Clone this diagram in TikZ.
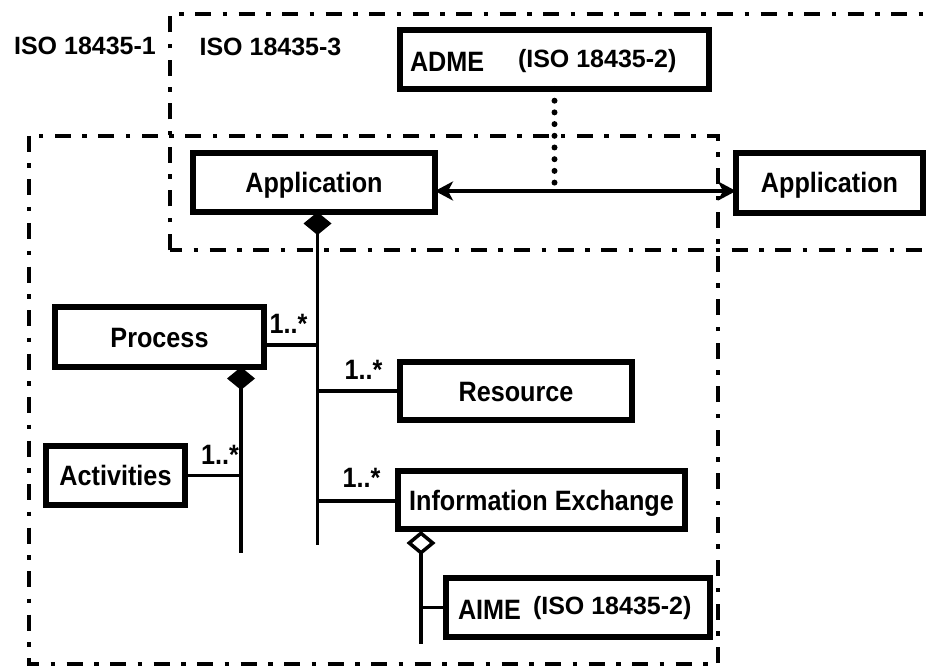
\documentclass[tikz,border=0pt]{standalone}
\usepackage{fontspec}
\setmainfont{Liberation Sans}
\newfontfamily\narrowsans{Liberation Sans}[FakeStretch=0.9]
\usetikzlibrary{arrows.meta}

% fonts: condensed bold for class names, plain bold for standard labels
\newcommand\diagboxfont{\narrowsans\bfseries\fontsize{28}{30}\selectfont}
\newcommand\diagisofont{\bfseries\fontsize{25}{27}\selectfont}

\begin{document}
\begin{tikzpicture}[x=1pt,y=-1pt,
  every node/.style={inner sep=0pt, outer sep=0pt},
  classbox/.style={draw, line width=5.5pt, fill=white, minimum height=59pt,
    font=\diagboxfont, text height=20pt, text depth=0pt},
  boxtext/.style={font=\diagboxfont, text height=20pt, text depth=0pt},
  isotext/.style={font=\diagisofont, text height=17.9pt, text depth=0pt},
  region/.style={line width=4pt, dash pattern=on 16pt off 11.5pt on 4.5pt off 11.5pt},
  link/.style={line width=3.5pt},
  comp/.style={link, {Diamond[length=23pt,width=28pt]}-},
  aggr/.style={link, {Diamond[open,fill=white,length=24pt,width=29pt]}-},
  assoc/.style={link, {Stealth[length=18pt,width=19pt,inset=5pt]}-{Stealth[length=18pt,width=19pt,inset=5pt]}},
  dotline/.style={line width=6pt, line cap=round, dash pattern=on 0pt off 11.7pt},
]
\useasboundingbox (0,0) rectangle (928,668);

% standard scopes
\draw[region] (170,250) -- (170,14) -- (940,14);
\draw[region, dash phase=4pt] (170,250) -- (940,250);
\draw[region] (29,136) -- (29,664) -- (718,664) -- (718,136) -- cycle;

\node[isotext] (iso1) at (85,46) {ISO 18435-1};
\node[isotext] (iso3) at (270.5,46.5) {ISO 18435-3};

% classes
\node[classbox, minimum width=309pt] (adme) at (554.5,59.5) {};
\node[boxtext, anchor=base west] (admename) at (410,72) {ADME};
\node[isotext, anchor=base west] (admestd) at (518,68) {(ISO 18435-2)};

\node[classbox, minimum width=242pt] (appL) at (314,182.5) {Application};
\node[classbox, minimum width=187pt, minimum height=60pt] (appR) at (829.5,183) {Application};
\node[classbox, minimum width=209pt, minimum height=60pt] (process) at (159.5,337) {Process};
\node[classbox, minimum width=232pt, minimum height=58pt] (resource) at (516,391) {Resource};
\node[classbox, minimum width=287pt, minimum height=58pt] (ie) at (541.5,500) {Information Exchange};
\node[classbox, minimum width=139pt] (act) at (115.5,475.5) {Activities};
\node[classbox, minimum width=264pt] (aime) at (578,607.5) {};
\node[boxtext, anchor=base west] (aimename) at (458,619) {AIME};
\node[isotext, anchor=base west] (aimestd) at (533,614) {(ISO 18435-2)};

% spine ends
\coordinate (appEnd) at (317.5,545);
\coordinate (procEnd) at (241,553);
\coordinate (ieEnd) at (421,644);
\coordinate (dotEnd) at (554.5,183.6);

% application exchange
\draw[assoc] ([yshift=-8.5pt]appL.east) -- ([yshift=-8.5pt]appL.east -| appR.west);
\draw[dotline] (adme.south) -- (dotEnd);

% compositions and aggregation
\draw[comp] (appL.south -| appEnd) -- (appEnd);
\draw[comp] (process.south -| procEnd) -- (procEnd);
\draw[aggr] ([yshift=-2pt]ie.south -| ieEnd) -- (ieEnd);

% branches
\draw[link] ([yshift=-8pt]process.east) -- ([yshift=-8pt]process.east -| appEnd);
\draw[link] (resource.west) -- (resource.west -| appEnd);
\draw[link] ([yshift=-1pt]ie.west) -- ([yshift=-1pt]ie.west -| appEnd);
\draw[link] (act.east) -- (act.east -| procEnd);
\draw[link] (aime.west) -- (aime.west -| ieEnd);

% multiplicities
\node[boxtext] (m1) at (288.5,323) {1..*};
\node[boxtext] (m2) at (363.5,369) {1..*};
\node[boxtext] (m3) at (361.5,477.5) {1..*};
\node[boxtext] (m4) at (220,454) {1..*};
\end{tikzpicture}
\end{document}
